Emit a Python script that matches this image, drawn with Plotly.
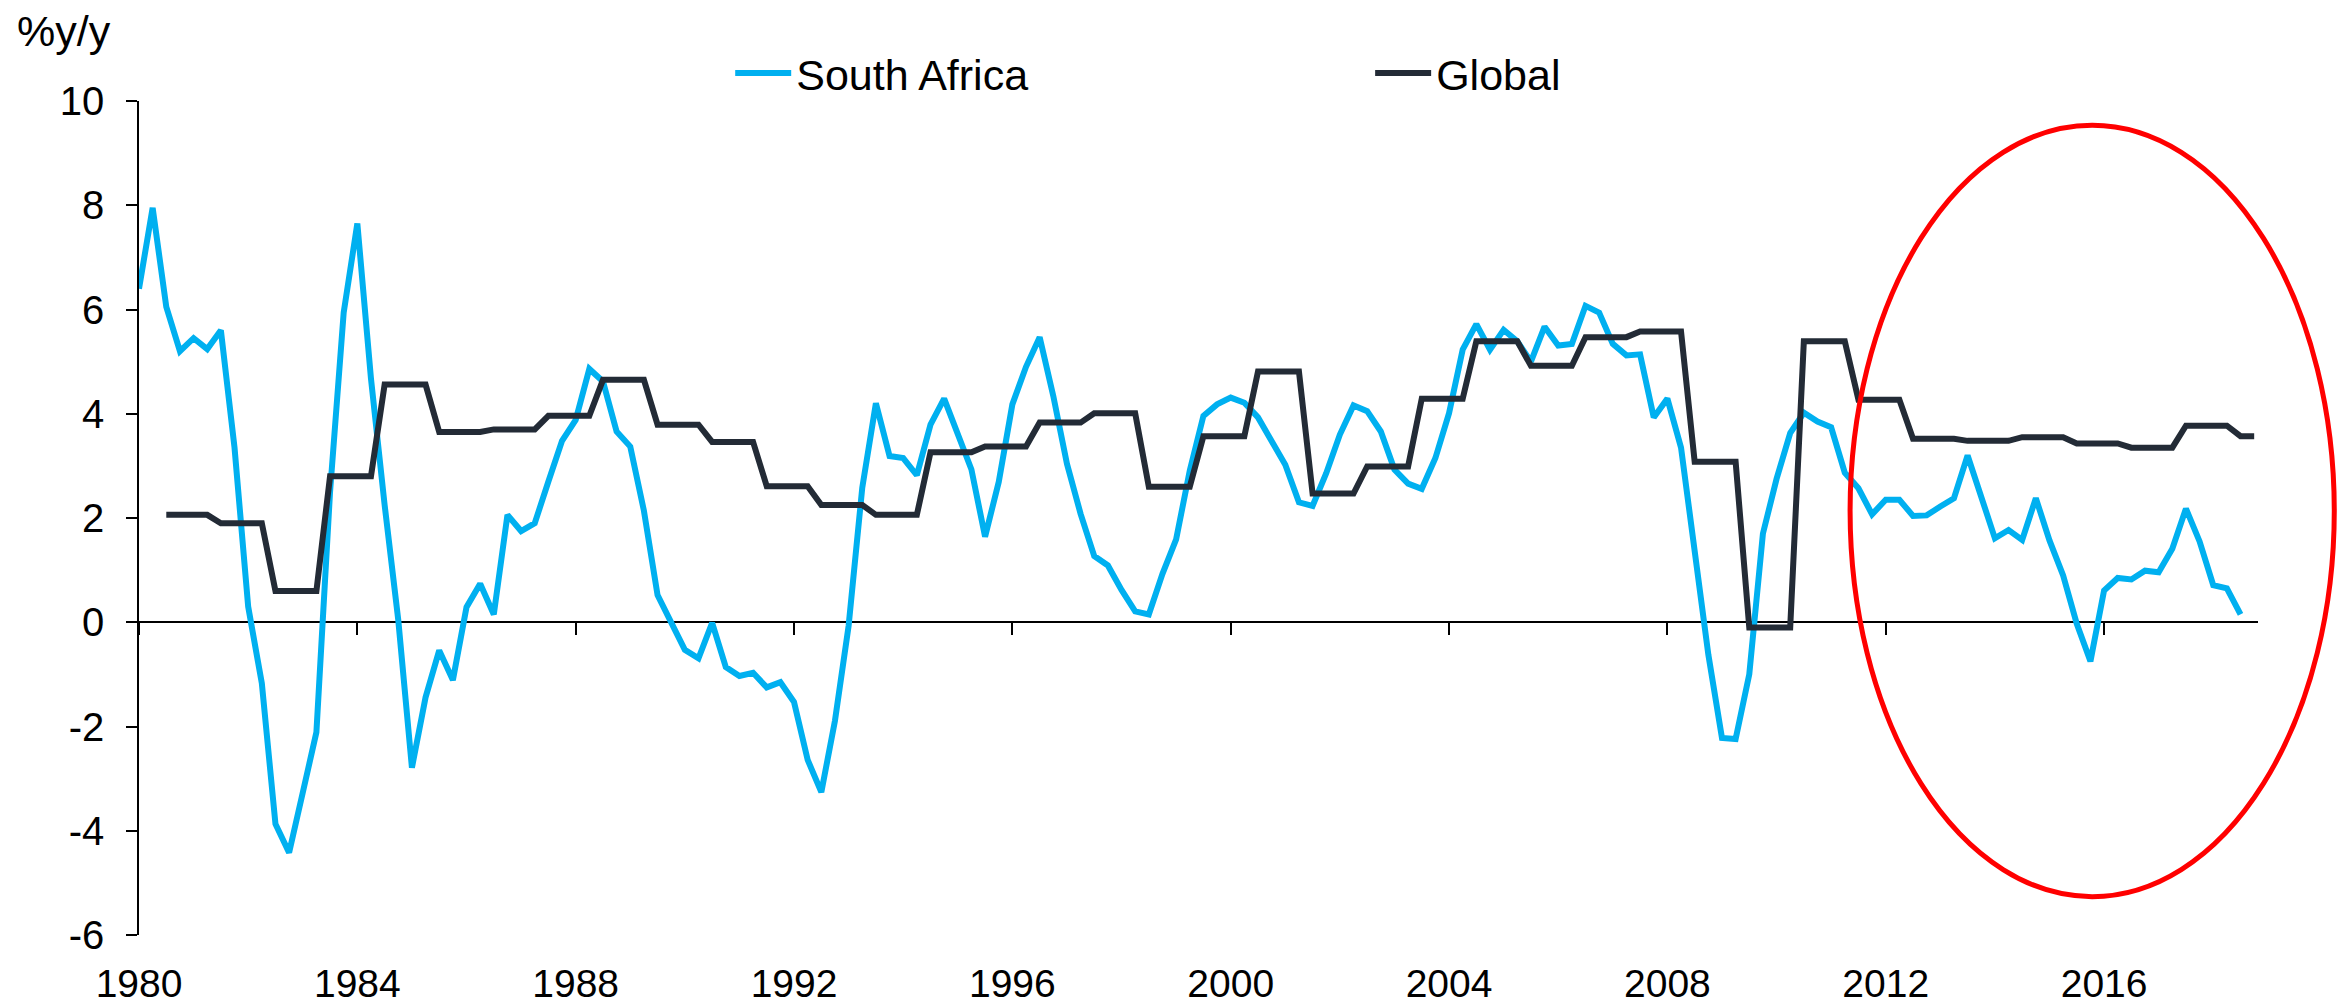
import plotly.graph_objects as go

# ---------------- data ----------------
SA_START_YEAR = 1980  # first quarter of the South Africa series (1980 Q1)
SA_VALUES = [
    6.4, 7.95, 6.05, 5.2, 5.45, 5.24, 5.6, 3.35, 0.3, -1.17,
    -3.87, -4.42, -3.27, -2.11, 2.5, 5.94, 7.65, 4.67, 2.25, 0.04,
    -2.79, -1.44, -0.54, -1.11, 0.29, 0.74, 0.15, 2.06, 1.75, 1.9,
    2.7, 3.48, 3.88, 4.86, 4.62, 3.66, 3.37, 2.14, 0.52, 0.0,
    -0.53, -0.69, -0.01, -0.86, -1.03, -0.97, -1.25, -1.15, -1.53, -2.64,
    -3.26, -1.89, -0.07, 2.58, 4.2, 3.19, 3.15, 2.82, 3.79, 4.29,
    3.63, 2.93, 1.64, 2.69, 4.18, 4.9, 5.47, 4.34, 3.04, 2.08,
    1.27, 1.09, 0.62, 0.21, 0.15, 0.93, 1.59, 2.91, 3.96, 4.18,
    4.31, 4.21, 3.93, 3.46, 3.02, 2.3, 2.23, 2.86, 3.6, 4.16,
    4.05, 3.66, 2.93, 2.66, 2.56, 3.15, 4.01, 5.23, 5.72, 5.23,
    5.61, 5.39, 5.0, 5.67, 5.31, 5.34, 6.07, 5.94, 5.34, 5.12,
    5.14, 3.93, 4.29, 3.35, 1.26, -0.62, -2.22, -2.24, -1.0, 1.7,
    2.75, 3.63, 4.02, 3.85, 3.74, 2.87, 2.57, 2.07, 2.35, 2.35,
    2.04, 2.05, 2.22, 2.38, 3.2, 2.4, 1.61, 1.77, 1.58, 2.38,
    1.57, 0.9, -0.03, -0.75, 0.61, 0.85, 0.82, 0.99, 0.96, 1.41,
    2.18, 1.55, 0.71, 0.65, 0.15,
]

GLOBAL_YEARS = list(range(1980, 2019))
GLOBAL_VALUES = [
    2.06, 1.9, 0.6, 2.8, 4.56, 3.65, 3.7, 3.96, 4.65, 3.79,
    3.46, 2.61, 2.25, 2.06, 3.26, 3.37, 3.83, 4.01, 2.6, 3.57,
    4.81, 2.47, 2.99, 4.29, 5.39, 4.92, 5.47, 5.58, 3.08, -0.1,
    5.39, 4.27, 3.52, 3.48, 3.55, 3.43, 3.35, 3.77, 3.57,
]
GLOBAL_FIRST_QUARTER = 1980.5   # annual value shown from mid-year
GLOBAL_LAST_QUARTER = 2018.75

X_TICKS = [1980, 1984, 1988, 1992, 1996, 2000, 2004, 2008, 2012, 2016]
Y_TICKS = [-6, -4, -2, 0, 2, 4, 6, 8, 10]
SERIES_NAMES = ["South Africa", "Global"]

# ---------------- build series ----------------
sa_x = [SA_START_YEAR + i / 4 for i in range(len(SA_VALUES))]

n_gl = int(round((GLOBAL_LAST_QUARTER - GLOBAL_FIRST_QUARTER) * 4)) + 1
gl_x = [GLOBAL_FIRST_QUARTER + i / 4 for i in range(n_gl)]
gl_y = [GLOBAL_VALUES[GLOBAL_YEARS.index(int(t - 0.5))] for t in gl_x]

FONT = "Liberation Sans, Arial, sans-serif"
SA_COLOR = "#00B0F0"
GL_COLOR = "#232B36"

fig = go.Figure()
fig.add_trace(go.Scatter(x=sa_x, y=SA_VALUES, mode="lines", name=SERIES_NAMES[0],
                         line=dict(color=SA_COLOR, width=6), legend="legend"))
fig.add_trace(go.Scatter(x=gl_x, y=gl_y, mode="lines", name=SERIES_NAMES[1],
                         line=dict(color=GL_COLOR, width=6), legend="legend2"))
# helper trace so the tick-only axis at y=0 is drawn
fig.add_trace(go.Scatter(x=[X_TICKS[0]], y=[None], xaxis="x2", showlegend=False,
                         hoverinfo="skip", mode="lines"))

x_range = [1980, 2018.82]

fig.update_layout(
    width=2343, height=1007, autosize=False,
    margin=dict(l=139, r=85, t=101, b=72, autoexpand=False),
    paper_bgcolor="white", plot_bgcolor="white",
    font=dict(family=FONT, color="black", size=40),
    xaxis=dict(range=x_range, tickvals=X_TICKS, ticktext=[str(v) for v in X_TICKS],
               showline=False, showgrid=False, zeroline=False, ticks="",
               tickfont=dict(size=39), ticklabelstandoff=22, automargin=False),
    xaxis2=dict(range=x_range, overlaying="x", anchor="free", position=0.375,
                side="bottom", tickvals=X_TICKS, ticks="outside", ticklen=12,
                tickwidth=1.5, tickcolor="black", showticklabels=False,
                showline=False, showgrid=False, zeroline=False, automargin=False),
    yaxis=dict(range=[-6, 10], tickvals=Y_TICKS, ticktext=[str(v) for v in Y_TICKS],
               showline=True, linecolor="black",
               linewidth=1.5, ticks="outside", ticklen=11, tickwidth=1.5,
               tickcolor="black", zeroline=True, zerolinecolor="black",
               zerolinewidth=1.5, showgrid=False, tickfont=dict(size=40),
               ticklabelstandoff=14, automargin=False),
    legend=dict(x=0.279, y=1.0336, xanchor="left", yanchor="middle",
                orientation="h", font=dict(size=43), bgcolor="rgba(0,0,0,0)",
                itemwidth=56),
    legend2=dict(x=0.581, y=1.0336, xanchor="left", yanchor="middle",
                 orientation="h", font=dict(size=43), bgcolor="rgba(0,0,0,0)",
                 itemwidth=56),
    annotations=[dict(text="%y/y", xref="paper", yref="paper", x=-0.0585, y=1.084,
                      xanchor="left", yanchor="middle", showarrow=False,
                      font=dict(size=43))],
    shapes=[dict(type="circle", xref="paper", yref="paper",
                 x0=0.8075, x1=1.036, y0=0.046, y1=0.971,
                 line=dict(color="#FF0000", width=5), layer="above")],
)

fig.write_html("out.html", config={"displayModeBar": False},
               post_script="document.body.style.margin='0';")
